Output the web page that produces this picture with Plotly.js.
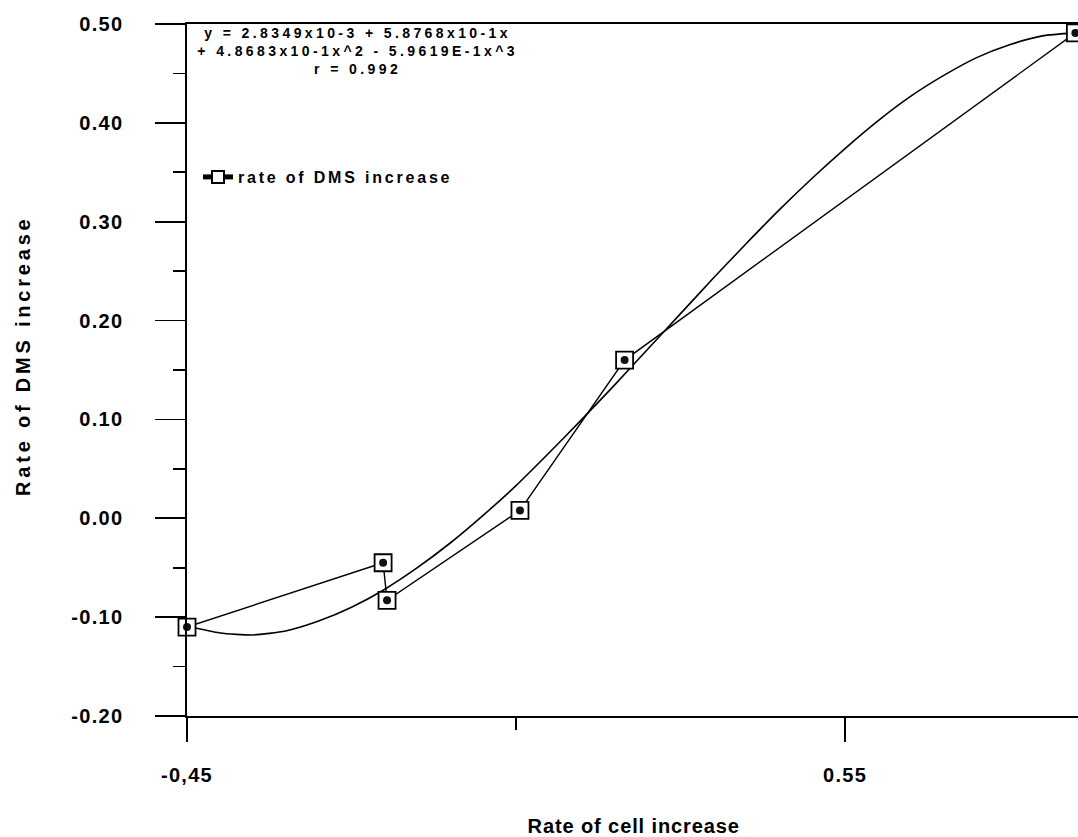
<!DOCTYPE html>
<html>
<head>
<meta charset="utf-8">
<script src="https://cdn.plot.ly/plotly-3.0.1.min.js"></script>
<style>
html,body{margin:0;padding:0;background:#fff;}
#chart{width:1078px;height:837px;}
.legendtext{letter-spacing:2.8px;}
.xtick text, .ytick text{letter-spacing:1.3px;}
</style>
</head>
<body>
<div id="chart"></div>
<script>
// ---- data ----
const cellRate = [-0.45, -0.152, -0.146, 0.056, 0.215, 0.90];
const dmsRate  = [-0.110, -0.045, -0.083, 0.008, 0.160, 0.491];

// fitted cubic curve as it appears in the picture
const fitX = [-0.45,-0.40,-0.35,-0.30,-0.25,-0.20,-0.15,-0.10,-0.05,0.00,0.05,0.10,0.15,0.20,0.25,0.30,0.35,0.40,0.45,0.50,0.55,0.60,0.65,0.70,0.75,0.80,0.85,0.90];
const fitY = [-0.109,-0.116,-0.118,-0.114,-0.104,-0.090,-0.072,-0.050,-0.025,0.003,0.033,0.066,0.100,0.135,0.171,0.207,0.243,0.278,0.312,0.344,0.374,0.402,0.427,0.448,0.466,0.479,0.488,0.491];

const yTickVals = [-0.20,-0.10,0.00,0.10,0.20,0.30,0.40,0.50];
const yTickText = ['-0.20','-0.10','0.00','0.10','0.20','0.30','0.40','0.50'];
const yMinorVals = [-0.15,-0.05,0.05,0.15,0.25,0.35,0.45];
const xTickVals = [-0.45, 0.55];
const xTickText = ['-0,45', '0.55'];
const xMinorVals = [0.05];

const eqLines = [
  'y = 2.8349x10-3 + 5.8768x10-1x',
  '+ 4.8683x10-1x^2 - 5.9619E-1x^3',
  'r = 0.992'
];
const seriesName = 'rate of DMS increase';
const xTitle = 'Rate of cell increase';
const yTitle = 'Rate of DMS increase';

// ---- drawing ----
const FONT = 'Liberation Sans, Arial, Helvetica, sans-serif';
const W = 1078, H = 837, ML = 187, MR = 0, MT = 24, MB = 121;
const PW = W - ML - MR, PH = H - MT - MB;
const px = v => (v - ML) / PW;
const py = v => (H - MB - v) / PH;

const traces = [
  {x: fitX, y: fitY, mode: 'lines', line: {color: '#000', width: 1.6, shape: 'spline', smoothing: 0.6},
   showlegend: false, hoverinfo: 'skip'},
  {x: cellRate, y: dmsRate, mode: 'lines+markers', name: seriesName,
   line: {color: '#000', width: 1.4},
   marker: {symbol: 'square', size: 17, color: '#fff', line: {color: '#000', width: 1.8}},
   cliponaxis: false},
  {x: cellRate, y: dmsRate, mode: 'markers', showlegend: false,
   marker: {symbol: 'circle', size: 8, color: '#111', line: {width: 0}}, cliponaxis: false}
];

const annotations = [
  {text: eqLines.join('<br>'), x: px(357), y: py(51), size: 14},
  {text: xTitle, x: px(633), y: py(826), size: 20},
  {text: yTitle, x: px(23), y: py(356), size: 20, textangle: -90}
].map(a => ({
  xref: 'paper', yref: 'paper', x: a.x, y: a.y, text: a.text, showarrow: false,
  xanchor: 'center', yanchor: 'middle', align: 'center', textangle: a.textangle || 0,
  font: {family: FONT, size: a.size, color: '#000', weight: 'bold'}
}));

const layout = {
  width: W, height: H,
  margin: {l: ML, r: MR, t: MT, b: MB, pad: 0},
  paper_bgcolor: '#fff', plot_bgcolor: '#fff',
  showlegend: true,
  legend: {x: px(198), y: py(177), xanchor: 'left', yanchor: 'middle', bgcolor: 'rgba(0,0,0,0)',
           entrywidth: 300, entrywidthmode: 'pixels',
           font: {family: FONT, size: 16, color: '#000', weight: 'bold'}, itemsizing: 'constant'},
  xaxis: {
    range: [-0.45, 0.904], showgrid: false, zeroline: false,
    showline: true, linecolor: '#000', linewidth: 1.6, mirror: true,
    ticks: 'outside', tickvals: xTickVals, ticktext: xTickText, ticklen: 24, tickwidth: 1.6, tickcolor: '#000',
    ticklabelstandoff: 16,
    tickfont: {family: FONT, size: 20, color: '#000', weight: 'bold'},
    minor: {tickvals: xMinorVals, ticks: 'outside', ticklen: 12, tickwidth: 1.6, tickcolor: '#000', showgrid: false}
  },
  yaxis: {
    range: [-0.2, 0.5], showgrid: false, zeroline: false,
    showline: true, linecolor: '#000', linewidth: 1.6,
    ticks: 'outside', tickvals: yTickVals, ticktext: yTickText, ticklen: 30, tickwidth: 1.6, tickcolor: '#000',
    ticklabelstandoff: 28,
    tickfont: {family: FONT, size: 20, color: '#000', weight: 'bold'},
    minor: {tickvals: yMinorVals, ticks: 'outside', ticklen: 12, tickwidth: 1.6, tickcolor: '#000', showgrid: false}
  },
  annotations: annotations
};

Plotly.newPlot('chart', traces, layout, {displayModeBar: false, staticPlot: true}).then(gd => {
  const spacing = [3.4, 0.9, 3.8];
  gd.querySelectorAll('.annotation-text').forEach((t, i) => {
    if (spacing[i] !== undefined) t.style.letterSpacing = spacing[i] + 'px';
  });
});
</script>
</body>
</html>
